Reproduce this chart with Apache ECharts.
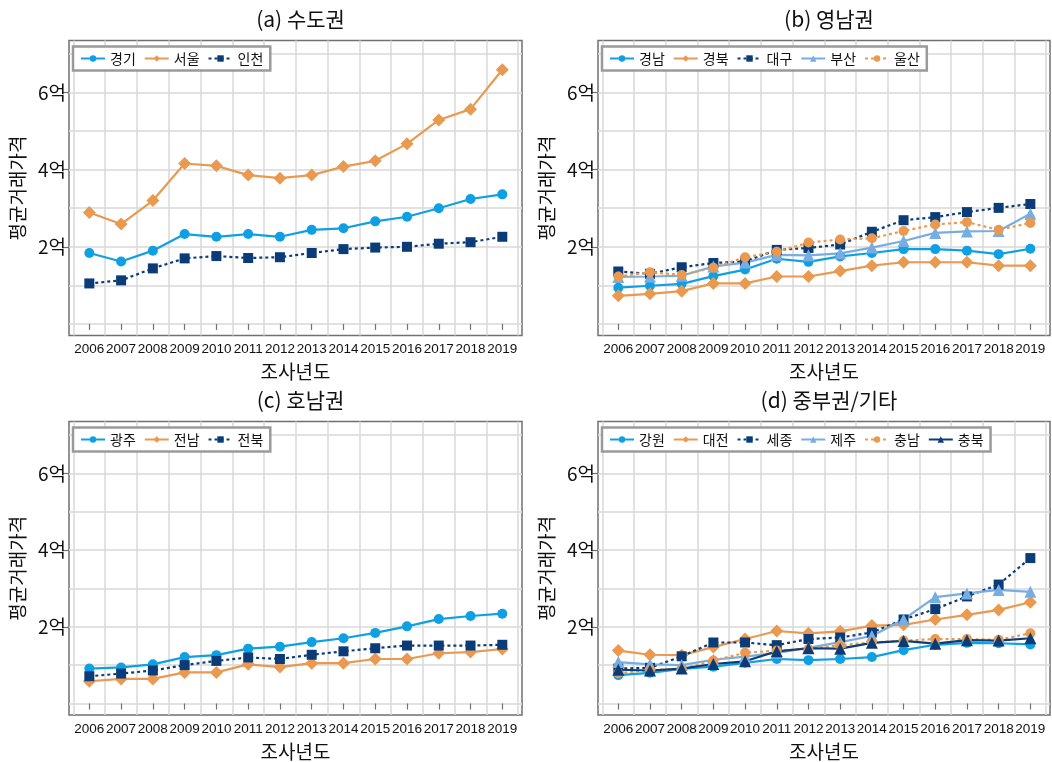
<!DOCTYPE html>
<html>
<head>
<meta charset="utf-8">
<script src="https://cdn.jsdelivr.net/npm/echarts@6/dist/echarts.min.js"></script>
<style>
  html, body { margin: 0; padding: 0; background: #fff; }
  #chart { width: 1052px; height: 762px; }
</style>
</head>
<body>
<div id="chart"></div>
<script>
// Survey years (x axis)
const years = [2006, 2007, 2008, 2009, 2010, 2011, 2012, 2013, 2014, 2015, 2016, 2017, 2018, 2019];

// Average transaction price (unit: 억 원)
// (a) 수도권
const gyeonggi = [1.84, 1.62, 1.90, 2.33, 2.26, 2.33, 2.26, 2.44, 2.48, 2.66, 2.78, 3.00, 3.24, 3.36];
const seoul    = [2.89, 2.59, 3.20, 4.16, 4.10, 3.86, 3.78, 3.86, 4.08, 4.23, 4.67, 5.29, 5.57, 6.59];
const incheon  = [1.05, 1.13, 1.44, 1.70, 1.76, 1.71, 1.73, 1.84, 1.94, 1.98, 2.00, 2.08, 2.12, 2.26];
// (b) 영남권
const gyeongnam = [0.94, 0.99, 1.04, 1.24, 1.41, 1.69, 1.61, 1.75, 1.84, 1.94, 1.94, 1.90, 1.81, 1.95];
const gyeongbuk = [0.73, 0.78, 0.85, 1.05, 1.05, 1.23, 1.23, 1.37, 1.51, 1.60, 1.60, 1.60, 1.51, 1.51];
const daegu     = [1.36, 1.30, 1.47, 1.58, 1.62, 1.92, 1.97, 2.06, 2.39, 2.69, 2.77, 2.90, 3.01, 3.11];
const busan     = [1.22, 1.23, 1.25, 1.49, 1.59, 1.79, 1.78, 1.83, 1.98, 2.15, 2.36, 2.40, 2.41, 2.86];
const ulsan     = [1.23, 1.34, 1.27, 1.46, 1.73, 1.87, 2.11, 2.19, 2.22, 2.41, 2.58, 2.64, 2.44, 2.62];
// (c) 호남권
const gwangju  = [0.91, 0.94, 1.02, 1.21, 1.26, 1.43, 1.48, 1.60, 1.70, 1.84, 2.01, 2.20, 2.28, 2.34];
const jeonnam  = [0.58, 0.64, 0.64, 0.81, 0.81, 1.02, 0.95, 1.05, 1.05, 1.16, 1.16, 1.31, 1.34, 1.42];
const jeonbuk  = [0.71, 0.78, 0.86, 1.00, 1.11, 1.20, 1.16, 1.27, 1.36, 1.44, 1.51, 1.51, 1.51, 1.53];
// (d) 중부권/기타
const gangwon   = [0.74, 0.80, 0.90, 0.96, 1.06, 1.16, 1.13, 1.16, 1.21, 1.39, 1.53, 1.58, 1.57, 1.54];
const daejeon   = [1.38, 1.27, 1.26, 1.47, 1.68, 1.89, 1.83, 1.88, 2.03, 2.05, 2.19, 2.31, 2.44, 2.64];
const sejong    = [0.91, 0.93, 1.23, 1.59, 1.59, 1.52, 1.68, 1.72, 1.85, 2.19, 2.46, 2.79, 3.10, 3.79];
const jeju      = [1.08, 1.02, 1.00, 1.14, 1.22, 1.32, 1.45, 1.60, 1.76, 2.19, 2.77, 2.87, 2.96, 2.91];
const chungnam  = [0.79, 0.87, 0.90, 1.12, 1.32, 1.38, 1.42, 1.52, 1.59, 1.64, 1.68, 1.68, 1.66, 1.83];
const chungbuk  = [0.88, 0.86, 0.91, 1.03, 1.10, 1.36, 1.44, 1.43, 1.58, 1.63, 1.56, 1.65, 1.64, 1.70];

// Axis ticks and labels
const yLabelValues = [2, 4, 6];
const yGridValues = [0, 1, 2, 3, 4, 5, 6, 7];
const xGridValues = [2005.5, 2006.5, 2007.5, 2008.5, 2009.5, 2010.5, 2011.5, 2012.5, 2013.5, 2014.5, 2015.5, 2016.5, 2017.5, 2018.5, 2019.5];

const panelTitles = ['(a) 수도권', '(b) 영남권', '(c) 호남권', '(d) 중부권/기타'];
const xAxisTitle = '조사년도';
const yAxisTitle = '평균거래가격';

// Region names per panel
const panelSeries = [
  [['경기', gyeonggi, 'blueCircle'], ['서울', seoul, 'orangeDiamond'], ['인천', incheon, 'navyDotSquare']],
  [['경남', gyeongnam, 'blueCircle'], ['경북', gyeongbuk, 'orangeDiamond'], ['대구', daegu, 'navyDotSquare'],
   ['부산', busan, 'lightTriangle'], ['울산', ulsan, 'orangeDotCircle']],
  [['광주', gwangju, 'blueCircle'], ['전남', jeonnam, 'orangeDiamond'], ['전북', jeonbuk, 'navyDotSquare']],
  [['강원', gangwon, 'blueCircle'], ['대전', daejeon, 'orangeDiamond'], ['세종', sejong, 'navyDotSquare'],
   ['제주', jeju, 'lightTriangle'], ['충남', chungnam, 'orangeDotCircle'], ['충북', chungbuk, 'navyTriangle']]
];

const BLUE = '#0fa0e3';
const ORANGE = '#e99a50';
const NAVY = '#0b3c78';
const LIGHT = '#78ade2';

const styles = {
  blueCircle:      { color: BLUE,   symbol: 'circle',   size: 10, dash: 'solid' },
  orangeDiamond:   { color: ORANGE, symbol: 'diamond',  size: 13, dash: 'solid' },
  navyDotSquare:   { color: NAVY,   symbol: 'rect',     size: 10, dash: [3, 3] },
  lightTriangle:   { color: LIGHT,  symbol: 'triangle', size: 12, dash: 'solid' },
  orangeDotCircle: { color: ORANGE, symbol: 'circle',   size: 10, dash: [3, 3] },
  navyTriangle:    { color: NAVY,   symbol: 'triangle', size: 12, dash: 'solid' }
};

// Panel plot boxes (px)
const boxes = [
  { left: 69,  top: 40.5,  width: 453, height: 295 },
  { left: 598, top: 40.5,  width: 452, height: 295 },
  { left: 69,  top: 421.5, width: 453, height: 296 },
  { left: 598, top: 421.5, width: 452, height: 296 }
];

const X_MIN = 2005.36, X_MAX = 2019.62;
const Y_MIN = -0.3, Y_MAX = 7.35;
const KFONT = '"Noto Sans CJK KR", "Noto Sans", sans-serif';
const NUMFONT = '"Liberation Sans", Arial, sans-serif';

const grid = [], xAxis = [], yAxis = [], series = [], legend = [], title = [];

boxes.forEach((b, i) => {
  grid.push({ left: b.left, top: b.top, width: b.width, height: b.height,
              show: true, borderColor: '#707070', borderWidth: 1.5, backgroundColor: 'transparent' });

  title.push({ text: panelTitles[i], left: b.left + b.width / 2, top: b.top - 37, textAlign: 'center',
               textStyle: { fontFamily: KFONT, fontSize: 21, fontWeight: 'normal', color: '#111' } });

  // main x axis: year ticks and labels
  xAxis.push({
    type: 'value', gridIndex: i, min: X_MIN, max: X_MAX,
    name: xAxisTitle, nameLocation: 'middle', nameGap: 27,
    nameTextStyle: { fontFamily: KFONT, fontSize: 19, color: '#111' },
    axisLine: { show: false },
    axisTick: { show: true, inside: false, length: 6, customValues: years, lineStyle: { color: '#707070', width: 1.2 } },
    axisLabel: { customValues: years, showMinLabel: true, showMaxLabel: true, hideOverlap: false,
                 margin: 7, fontFamily: NUMFONT, fontSize: 13.5, color: '#111', formatter: v => String(v) },
    splitLine: { show: false }
  });
  // half-year grid lines
  xAxis.push({
    type: 'value', gridIndex: i, min: X_MIN, max: X_MAX,
    axisLine: { show: false }, axisLabel: { show: false },
    axisTick: { show: false, customValues: xGridValues },
    splitLine: { show: true, lineStyle: { color: '#d9d9d9', width: 1.5 } }
  });
  // main y axis: labels at 2억, 4억, 6억
  yAxis.push({
    type: 'value', gridIndex: i, min: Y_MIN, max: Y_MAX,
    name: yAxisTitle, nameLocation: 'middle', nameGap: 42, nameRotate: 90,
    nameTextStyle: { fontFamily: KFONT, fontSize: 19, color: '#111' },
    axisLine: { show: false },
    axisTick: { show: true, inside: false, length: 6, customValues: yLabelValues, lineStyle: { color: '#707070', width: 1.2 } },
    axisLabel: { customValues: yLabelValues, margin: 3, fontFamily: KFONT, fontSize: 19, color: '#111', formatter: v => v + '억' },
    splitLine: { show: false }
  });
  // 1억 grid lines
  yAxis.push({
    type: 'value', gridIndex: i, min: Y_MIN, max: Y_MAX,
    axisLine: { show: false }, axisLabel: { show: false },
    axisTick: { show: false, customValues: yGridValues },
    splitLine: { show: true, lineStyle: { color: '#d9d9d9', width: 1.5 } }
  });

  const names = [];
  panelSeries[i].forEach(([name, values, key]) => {
    const s = styles[key];
    names.push(name);
    series.push({
      name, type: 'line', xAxisIndex: 2 * i, yAxisIndex: 2 * i,
      data: years.map((y, k) => [y, values[k]]),
      symbol: s.symbol, symbolSize: s.size, showSymbol: true,
      itemStyle: { color: s.color },
      lineStyle: { color: s.color, width: 2.2, type: s.dash },
      emphasis: { disabled: true },
      animation: false
    });
  });

  legend.push({
    data: names, left: b.left + 4, top: b.top + 6,
    orient: 'horizontal', itemWidth: 24, itemHeight: 8, itemGap: 8,
    padding: [5, 7, 5, 7], borderColor: '#9a9a9a', borderWidth: 2.5, backgroundColor: '#fff',
    textStyle: { fontFamily: KFONT, fontSize: 14, color: '#111' },
    selectedMode: false
  });
});

const chart = echarts.init(document.getElementById('chart'), null, { renderer: 'canvas' });
chart.setOption({
  backgroundColor: '#fff',
  animation: false,
  title, grid, xAxis, yAxis, legend, series
});
</script>
</body>
</html>
